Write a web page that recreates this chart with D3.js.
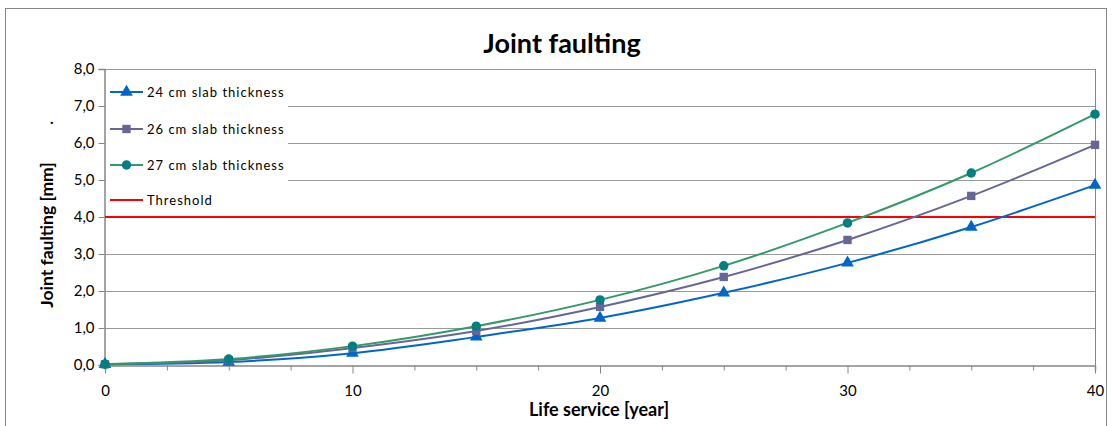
<!DOCTYPE html>
<html>
  <head>
    <meta charset="UTF-8">
    <title>Joint faulting</title>
    <script src="https://d3js.org/d3.v7.min.js" charset="utf-8"></script>
    <style>
      body { margin: 0; background: #fff; }
      text { font-family: Lato, "Open Sans", sans-serif; }
    </style>
  </head>
  <body>
    <script>
        var w = 1112;
        var h = 426;

        // data
        var years = [0, 5, 10, 15, 20, 25, 30, 35, 40];
        var slab24 = [0.02, 0.08, 0.32, 0.76, 1.27, 1.95, 2.76, 3.73, 4.86];
        var slab26 = [0.02, 0.13, 0.46, 0.92, 1.57, 2.38, 3.38, 4.57, 5.95];
        var slab27 = [0.02, 0.16, 0.51, 1.05, 1.76, 2.68, 3.84, 5.19, 6.78];
        var threshold = 4.0;
        var yTicks = [0, 1, 2, 3, 4, 5, 6, 7, 8];
        var xTicks = [0, 10, 20, 30, 40];

        var series = [
            {name: "24 cm slab thickness", values: slab24, line: "#0066cc", fill: "#0066cc", shape: d3.symbolTriangle, size: 70},
            {name: "26 cm slab thickness", values: slab26, line: "#666699", fill: "#666699", shape: d3.symbolSquare, size: 70},
            {name: "27 cm slab thickness", values: slab27, line: "#339966", fill: "#008080", shape: d3.symbolCircle, size: 70}
        ];

        var x = d3.scaleLinear().domain([0, 40]).range([105, 1095]);
        var y = d3.scaleLinear().domain([0, 8]).range([365, 69]);

        var svg = d3.select("body").append("svg")
            .attr("width", w)
            .attr("height", h);

        // outer border
        svg.append("rect")
            .attr("x", 5.5).attr("y", 8.5)
            .attr("width", 1101).attr("height", 440)
            .attr("fill", "none").attr("stroke", "#888");

        // gridlines
        svg.append("g").selectAll("line")
            .data(yTicks.slice(1))
            .enter().append("line")
            .attr("x1", x(0)).attr("x2", x(40))
            .attr("y1", function(d){ return Math.round(y(d)) + 0.5; })
            .attr("y2", function(d){ return Math.round(y(d)) + 0.5; })
            .attr("stroke", "#999").attr("stroke-width", 1);

        // right border of plot area
        svg.append("line")
            .attr("x1", x(40) + 0.5).attr("x2", x(40) + 0.5)
            .attr("y1", y(8)).attr("y2", y(0))
            .attr("stroke", "#868686");

        // y axis
        var yAxis = d3.axisLeft(y).tickValues(yTicks).tickSize(6)
            .tickFormat(function(d){ return d3.format(".1f")(d).replace(".", ","); });
        var gy = svg.append("g").attr("transform", "translate(" + (x(0) - 0.5) + ",0)").call(yAxis);
        gy.select(".domain").attr("stroke", "#868686").attr("stroke-width", 1.5);
        gy.selectAll(".tick line").attr("stroke", "#868686");
        gy.selectAll(".tick text").attr("font-size", 15).attr("fill", "#000")
            .attr("font-family", "Lato, sans-serif").attr("x", -10);

        // x axis: minor ticks every 2.5, labels every 10
        var xAxis = d3.axisBottom(x).tickValues(d3.range(0, 40.01, 2.5)).tickSize(5)
            .tickFormat(function(d){ return xTicks.indexOf(d) >= 0 ? d : ""; });
        var gx = svg.append("g").attr("transform", "translate(0," + (y(0) + 0.5) + ")").call(xAxis);
        gx.select(".domain").attr("stroke", "#868686").attr("stroke-width", 1.5);
        gx.selectAll(".tick line").attr("stroke", "#868686")
            .attr("y2", function(d){ return xTicks.indexOf(d) >= 0 ? 8 : 5; });
        gx.selectAll(".tick text").attr("font-size", 15).attr("fill", "#000")
            .attr("font-family", "Lato, sans-serif").attr("y", 20);

        // threshold
        svg.append("line")
            .attr("x1", x(0)).attr("x2", x(40))
            .attr("y1", y(threshold)).attr("y2", y(threshold))
            .attr("stroke", "#ff0000").attr("stroke-width", 2);

        // series lines
        var line = d3.line()
            .x(function(d, i){ return x(years[i]); })
            .y(function(d){ return y(d); })
            .curve(d3.curveCatmullRom.alpha(0.5));

        series.forEach(function(s){
            svg.append("path")
                .attr("d", line(s.values))
                .attr("fill", "none")
                .attr("stroke", s.line)
                .attr("stroke-width", 2);
        });

        series.forEach(function(s){
            svg.append("g").selectAll("path")
                .data(s.values)
                .enter().append("path")
                .attr("d", d3.symbol().type(s.shape).size(s.size))
                .attr("transform", function(d, i){ return "translate(" + x(years[i]) + "," + y(d) + ")"; })
                .attr("fill", s.fill);
        });

        // legend
        svg.append("rect")
            .attr("x", x(0) + 1).attr("y", y(8) + 1)
            .attr("width", 182).attr("height", 143)
            .attr("fill", "#fff");

        var legendItems = series.concat([{name: "Threshold", line: "#ff0000", shape: null}]);
        var legend = svg.append("g").selectAll("g")
            .data(legendItems)
            .enter().append("g")
            .attr("transform", function(d, i){ return "translate(110," + [92, 129, 165, 200][i] + ")"; });

        legend.append("line")
            .attr("x1", 0).attr("x2", 33)
            .attr("stroke", function(d){ return d.line; })
            .attr("stroke-width", 2);
        legend.filter(function(d){ return d.shape; }).append("path")
            .attr("d", function(d){ return d3.symbol().type(d.shape).size(d.size)(); })
            .attr("transform", "translate(16.5,0)")
            .attr("fill", function(d){ return d.fill; });
        legend.append("text")
            .attr("x", 37).attr("y", 4.5)
            .attr("font-size", 13)
            .attr("letter-spacing", 1)
            .text(function(d){ return d.name; });

        // titles
        svg.append("text")
            .attr("x", 562).attr("y", 53)
            .attr("text-anchor", "middle")
            .attr("font-size", 27).attr("font-weight", "bold")
            .text("Joint faulting");

        svg.append("text")
            .attr("x", 599).attr("y", 416)
            .attr("text-anchor", "middle")
            .attr("font-size", 18).attr("font-weight", "bold")
            .text("Life service [year]");

        svg.append("text")
            .attr("transform", "translate(53,235) rotate(-90)")
            .attr("text-anchor", "middle")
            .attr("font-size", 17.5).attr("font-weight", "bold")
            .text("Joint faulting [mm]");

        svg.append("text")
            .attr("x", 50).attr("y", 124)
            .attr("font-size", 15).attr("font-weight", "bold")
            .text(".");
    </script>
  </body>
</html>
